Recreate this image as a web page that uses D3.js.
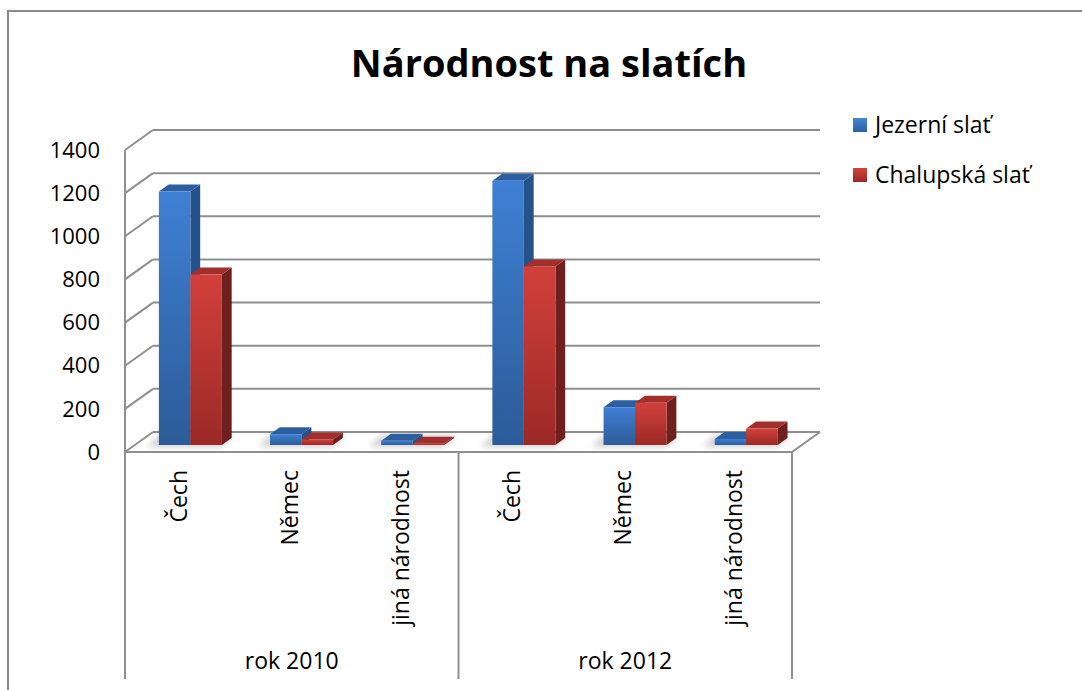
<!DOCTYPE html>
<html>
<head>
<meta charset="utf-8">
<script src="https://cdn.jsdelivr.net/npm/d3@7"></script>
<style>
    body { margin: 0; background: #fff; }
    text { font-family: "Open Sans", sans-serif; fill: #000; }
</style>
</head>
<body>
<div id="container"></div>
<script>
const W = 1082, H = 690;

// data
const groups = ["rok 2010", "rok 2012"];
const nations = ["Čech", "Němec", "jiná národnost"];
const seriesNames = ["Jezerní slať", "Chalupská slať"];
const jezerni = [1175, 50, 20, 1225, 175, 28];
const chalupska = [790, 25, 6, 828, 196, 76];
const yTicks = [0, 200, 400, 600, 800, 1000, 1200, 1400];

// 3D offsets: back plane -> front plane
const DX = -28, DY = 20;
// bar depth (0 = back wall, 1 = front edge)
const D_FRONT = 0.65, D_BACK = 0.3;

const cats = [];
groups.forEach(g => nations.forEach(n => cats.push(g + "|" + n)));

const svg = d3.select("#container").append("svg")
    .attr("width", W).attr("height", H);

// scales live on the back plane
const x = d3.scaleBand().domain(cats).range([153, 820]).paddingInner(0).paddingOuter(0);
const y = d3.scaleLinear().domain([0, 1400]).range([432, 130]);
const xs = d3.scaleBand().domain([0, 1]).range([0, 63]);
const barOffset = (x.bandwidth() - 63) / 2;

// chart border
svg.append("path")
    .attr("d", `M8,${H} L8,11 L${W},11`)
    .attr("fill", "none").attr("stroke", "#8a8a8a").attr("stroke-width", 2);

// title
svg.append("text")
    .attr("x", 549).attr("y", 77)
    .attr("text-anchor", "middle")
    .style("font-weight", "bold").style("font-size", "38px")
    .text("Národnost na slatích");

const defs = svg.append("defs");
function grad(id, top, bottom) {
    const g = defs.append("linearGradient").attr("id", id)
        .attr("x1", 0).attr("y1", 0).attr("x2", 0).attr("y2", 1);
    g.append("stop").attr("offset", "0%").attr("stop-color", top);
    g.append("stop").attr("offset", "100%").attr("stop-color", bottom);
}
grad("gBlue", "#3f80d4", "#2c5b98");
grad("gRed", "#d2403b", "#9b2926");
grad("legBlue", "#4286d8", "#2c5fa0");
grad("legRed", "#d4433e", "#9a2a27");
defs.append("filter").attr("id", "blur")
    .attr("x", "-50%").attr("y", "-50%").attr("width", "200%").attr("height", "200%")
    .append("feGaussianBlur").attr("stdDeviation", 3);

const grid = svg.append("g");
const gridColor = "#8f8f8f";

// gridlines: back line + left wall diagonal
yTicks.forEach(t => {
    const yb = y(t);
    grid.append("line")
        .attr("x1", x.range()[0]).attr("x2", x.range()[1])
        .attr("y1", yb).attr("y2", yb)
        .attr("stroke", gridColor).attr("stroke-width", 2);
    grid.append("line")
        .attr("x1", x.range()[0] + DX).attr("y1", yb + DY)
        .attr("x2", x.range()[0]).attr("y2", yb)
        .attr("stroke", gridColor).attr("stroke-width", 2);
});

// left wall front edge
grid.append("line")
    .attr("x1", x.range()[0] + DX).attr("x2", x.range()[0] + DX)
    .attr("y1", y(1400) + DY).attr("y2", y(0) + DY)
    .attr("stroke", gridColor).attr("stroke-width", 2);

// floor front + right edge
grid.append("path")
    .attr("d", `M${x.range()[0] + DX},${y(0) + DY} L${x.range()[1] + DX},${y(0) + DY} L${x.range()[1]},${y(0)}`)
    .attr("fill", "none").attr("stroke", gridColor).attr("stroke-width", 2);

// y tick labels on the front plane
svg.append("g").selectAll("text").data(yTicks).enter().append("text")
    .attr("x", 100)
    .attr("y", d => y(d) + DY)
    .attr("dy", "0.35em")
    .attr("text-anchor", "end")
    .style("font-size", "22px")
    .text(d => d);

// bars
const bars = svg.append("g");
const rows = [];
cats.forEach((c, i) => {
    rows.push({ c, s: 0, v: jezerni[i] });
    rows.push({ c, s: 1, v: chalupska[i] });
});

const fdx = DX * D_FRONT, fdy = DY * D_FRONT;
const bdx = DX * D_BACK, bdy = DY * D_BACK;

// floor shadows
cats.forEach(c => {
    const x0 = x(c) + barOffset + fdx;
    bars.append("path")
        .attr("d", `M${x0 - 12},${y(0) + fdy + 2} L${x0 + 63},${y(0) + fdy + 2} L${x0 + 63 + 12},${y(0) + fdy - 10} L${x0},${y(0) + fdy - 10}Z`)
        .attr("fill", "#000").attr("opacity", 0.18)
        .attr("filter", "url(#blur)");
});

rows.forEach(r => {
    const x0 = x(r.c) + barOffset + xs(r.s) + fdx;
    const x1 = x0 + xs.bandwidth();
    const yt = y(r.v) + fdy;
    const yb = y(0) + fdy;
    const ox = bdx - fdx, oy = bdy - fdy;
    const front = r.s === 0 ? "url(#gBlue)" : "url(#gRed)";
    const side = r.s === 0 ? "#26528c" : "#6f1f1d";
    const top = r.s === 0 ? "#2c5f9f" : "#a22f2b";
    // side
    bars.append("path")
        .attr("d", `M${x1},${yt} L${x1 + ox},${yt + oy} L${x1 + ox},${yb + oy} L${x1},${yb}Z`)
        .attr("fill", side);
    // top
    bars.append("path")
        .attr("d", `M${x0},${yt} L${x0 + ox},${yt + oy} L${x1 + ox},${yt + oy} L${x1},${yt}Z`)
        .attr("fill", top);
    // front
    bars.append("rect")
        .attr("x", x0).attr("y", yt)
        .attr("width", xs.bandwidth()).attr("height", yb - yt)
        .attr("fill", front);
});

// category axis (front plane)
const axisY = y(0) + DY;
const xf = c => x(c) + x.bandwidth() / 2 + DX;
[0, 3, 6].forEach(i => {
    const xx = i < 6 ? x(cats[i]) + DX : x.range()[1] + DX;
    svg.append("line")
        .attr("x1", xx).attr("x2", xx)
        .attr("y1", axisY).attr("y2", 679)
        .attr("stroke", gridColor).attr("stroke-width", 2);
});

svg.append("g").selectAll("text").data(cats).enter().append("text")
    .attr("transform", d => `translate(${xf(d) + 6},470) rotate(-90)`)
    .attr("text-anchor", "end")
    .style("font-size", "23px")
    .text(d => d.split("|")[1]);

svg.append("g").selectAll("text").data(groups).enter().append("text")
    .attr("x", (d, i) => {
        const a = x(cats[i * 3]) + DX;
        const b = x(cats[i * 3 + 2]) + x.bandwidth() + DX;
        return (a + b) / 2;
    })
    .attr("y", 669)
    .attr("text-anchor", "middle")
    .style("font-size", "23px")
    .text(d => d);

// legend
const legend = svg.append("g").selectAll("g").data(seriesNames).enter().append("g")
    .attr("transform", (d, i) => `translate(853,${118 + i * 50})`);
legend.append("rect")
    .attr("width", 14).attr("height", 14)
    .attr("fill", (d, i) => i === 0 ? "url(#legBlue)" : "url(#legRed)");
legend.append("text")
    .attr("x", 22).attr("y", 15)
    .style("font-size", "23px")
    .text(d => d);
</script>
</body>
</html>
